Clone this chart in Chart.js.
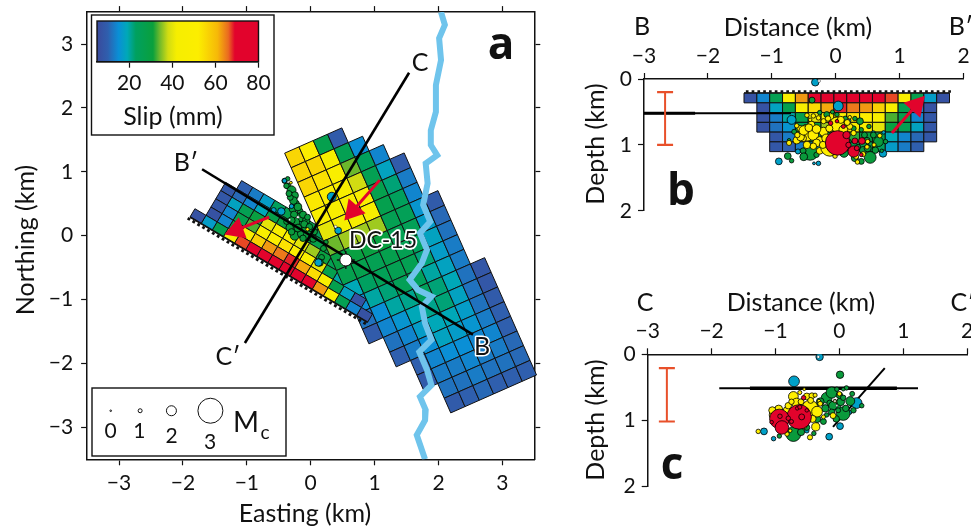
<!DOCTYPE html>
<html><head><meta charset="utf-8">
<style>html,body{margin:0;padding:0;background:#fff;width:971px;height:529px;overflow:hidden}canvas{position:absolute;left:0;top:0}</style>
<script src="https://cdn.jsdelivr.net/npm/chart.js@4/dist/chart.umd.js"></script>
</head><body>
<canvas id="a" width="971" height="529"></canvas>
<canvas id="b" width="971" height="529"></canvas>
<canvas id="c" width="971" height="529"></canvas>
<canvas id="bar" width="971" height="529"></canvas>
<script>
// ---------- data ----------
const mapTicks=[-3,-2,-1,0,1,2,3];
const sectionXTicks=[-3,-2,-1,0,1,2];
const depthTicks=[0,1,2];
const slipTicks=[20,40,60,80];
const legendMags=[0,1,2,3];
const legendEast=[-3.13,-2.67,-2.18,-1.57];
const legendNorth=[-2.74,-2.74,-2.74,-2.74];
// slip stops of the colour bar (mm) and their colours
const slipStops=[5,10,15,19,23,31,34,38,42,52,61,66,69,80];
const slipColors=['#3a4a9c','#2f5fae','#0a8fd6','#00a8b8','#00a060','#0aa03c','#6cb82c','#d2dc12','#f6ee00','#fcee00','#f6b808','#ea6a20','#e2032c','#e2032c'];
// Shallow fault plane: rows from the top edge, cells listed from B to B'
const faultStart=[0,1,1,1,2,2];
const faultSlip=[
 [7,14,26,47,63,74,75,75,75,75,75,67,47,27,17,7],
 [7,18,27,47,55,62,68,65,63,57,47,27,14,7],
 [7,13,20,27,40,46,50,54,52,47,33,27,14,8],
 [7,12,16,26,30,36,40,46,46,40,30,26,18,8],
 [8,13,18,26,28,30,32,30,28,19,14,11,8],
 [8,10,13,18,24,27,27,27,24,17,13,10]];
// Main plane: columns from SW to NE, listed from the NW end
const mainTop=[0,0,0,0,1,2,3,6,11];
const mainSlip=[
 [56,56,56,53,46,40,34,29,27,19,15,12,9],
 [48,56,54,48,46,42,36,30,27,23,20,15,14,12,10],
 [27,42,47,47,46,42,36,30,26,25,22,20,16,14,13,10,9],
 [9,26,34,38,47,44,36,30,27,26,25,21,19,17,15,14,13,12,9],
 [15,24,26,27,27,26,26,26,26,24,24,21,19,18,15,13,12,10],
 [14,18,22,24,25,25,24,22,20,22,22,19,17,15,14,13,11],
 [9,13,14,16,17,18,17,18,19,18,17,16,14,13,12,10],
 [9,11,12,13,13,12,12,12,13,14,13,12,10],
 [8,8,9,10,10,11,11,10]];
const river=[[2.04,3.5],[2.1,3.3],[2.01,3.09],[2.04,2.75],[1.96,2.36],[1.96,1.94],[1.88,1.65],[1.88,1.42],[1.98,1.26],[1.8,1.13],[1.83,.82],[1.76,.48],[1.87,.22],[1.71,.04],[1.82,-.22],[1.74,-.43],[1.55,-.69],[1.68,-.85],[1.89,-.95],[1.74,-1.11],[1.79,-1.37],[1.89,-1.63],[1.7,-1.82],[1.82,-2.1],[1.89,-2.34],[1.71,-2.52],[1.8,-2.73],[1.79,-2.89],[1.66,-3.12],[1.79,-3.5]];
const lineBB=[[-1.7,1.04],[2.54,-1.55]];
const lineCC=[[1.54,2.55],[-1.03,-1.68]];
const well=[[.55,-.38]];
// earthquakes [easting, northing, Mc]
const mapGreen=[[-.36,.78,1.3],[-.41,.86,1.15],[-.36,.89,1],[-.3,.71,1.75],[-.25,.63,1.55],[-.23,.5,1.45],[-.28,.42,1.55],[-.17,.39,1.3],[-.15,.29,1.75],[-.07,.24,1.55],[-.25,.21,1.85],[-.33,.13,1.55],[-.25,0,1.75],[-.15,.03,1.55],[-.09,.1,1.45],[-.04,0,1.85],[.04,-.05,1.45],[.17,-.34,1.3],[.14,-.42,1.55],[-.27,.55,1.6],[-.32,.6,1.3],[-.2,.45,1.6],[-.12,.33,1.5],[-.2,.12,1.6],[-.1,.18,1.5],[-.02,.14,1.4],[-.3,.06,1.4],[-.12,-.04,1.4],[.06,.06,1.3],[-.38,.22,1.2],[.2,-.2,1.3],[.24,-.1,1],[-.26,.33,1.5],[-.34,.66,1.3],[-.38,.78,1.2],[-.3,.24,1.5],[-.05,.29,1.3]];
const mapBlue=[[-.41,.86,1],[.33,.61,1.75],[.43,.08,1.45],[.12,-.42,1.55],[-.46,.38,1.55],[-.58,.4,1.15],[-.3,.46,1]];
const mapYellow=[[-.31,.83,.5],[-.05,.1,.75]];
const mapWhite=[[-.2,.29,.5],[.39,.14,.5],[-.33,.25,.3]];
// earthquakes [distance, depth, Mc]
const bRed=[[.03,.97,2.85],[.28,1.1,2],[.17,.85,1.55],[.3,.94,1.3],[.41,.94,1.45],[-.08,.67,1],[.02,.64,.75],[.2,1,1.2],[.33,1.05,1.1],[.12,.72,.9],[.4,1.15,.8]];
const bYellow=[[-.45,.82,2.4],[-.61,.93,1.55],[-.51,.9,1.45],[-.45,1,1.55],[-.35,.85,1.95],[-.25,.93,1.55],[-.19,.8,1.75],[-.25,1.09,1.45],[-.35,.56,1],[-.38,.69,1.45],[-.09,1.03,2.55],[.02,.69,2.3],[.12,.77,1.75],[.22,.72,1.3],[-.56,.75,1.3],[-.73,.97,1.15],[-.01,1.17,1],[.34,1.26,1],[.43,1.14,1.15],[.49,1.03,1],[.69,.86,1],[.22,.58,.75],[-.19,.64,1.15],[-.27,.59,1],[-.4,.62,.75],[-.48,.72,.75],[-.61,.71,1],[-.55,.88,1.6],[-.5,.78,1.8],[-.42,.74,1.6],[-.3,.76,1.7],[-.3,.97,1.6],[-.15,.9,1.7],[-.2,1,1.5],[-.1,.75,1.5],[.08,.62,1.5],[.18,.66,1.3],[.28,.82,1.2],[-.12,.6,1.2],[-.45,.55,1],[-.6,.85,1.2],[-.35,1.02,1.4],[.32,1.18,1.1],[.5,.95,1],[.6,1,.9]];
const bGreen=[[-.4,1.11,2.4],[-.75,1.17,1.45],[-.69,1.24,1],[-.73,.93,.75],[.38,.64,1.45],[.28,.75,1.15],[.54,1.19,2.05],[.43,1.08,1.55],[.67,.95,1.85],[.59,.85,1.3],[.02,.54,1],[-.51,1.09,1.3],[.49,.93,1.3],[-.14,.54,1.3],[-.25,.51,1],[-.37,.32,1.3],[.35,1.03,1.15],[.72,1.09,.75],[.13,1.12,1.75],[.45,.85,1.3],[.5,1.05,1.5],[.62,1.08,1.4],[.3,1.2,1.5],[.4,1.25,1.3],[.2,.95,1.2],[.15,.6,1.1],[.3,.6,1],[-.65,.8,1.1],[-.5,1.18,1.6],[-.3,1.15,1.2],[.78,.95,1],[.1,1.02,1.5],[.52,.72,1],[-.05,.5,.9],[.4,.77,1]];
const bBlue=[[.04,.41,1.85],[-.69,.62,1.75],[-.89,1.25,1.45],[-.27,1.28,1],[-.34,1.28,.5],[-.32,.05,1.55],[-.59,1.1,1.15],[.59,.82,1],[.74,1.13,1.55],[.75,.81,.75],[.21,.63,.75]];
const bWhite=[[-.26,.03,.5]];
const cRed=[[-.63,.95,2.85],[-.94,.98,2.6],[-.9,1.11,2.2],[-.59,.95,1.3],[-.56,.66,1],[-1.06,1.03,.75],[-.93,.94,1],[-.66,.82,.75],[-.51,.85,.75],[-.8,.97,1],[-.75,1.02,.9],[-.62,.8,.9]];
const cYellow=[[-1.01,.92,2],[-.46,.82,2.4],[-.35,.87,1.95],[-.37,1.1,1.65],[-.72,.64,1.85],[-.51,.64,1.45],[-.43,.63,1.3],[-.82,.85,1.55],[-.67,.74,1.85],[-.82,1.21,1],[-.46,1.26,1.15],[-1.27,1.17,1],[-.1,.93,1.3],[0,.6,1],[-.32,.71,.75],[-.55,.53,.5],[-.07,.71,.75],[-.77,1.16,.75],[-.95,.83,1.6],[-1.05,.85,1.5],[-.8,.78,1.4],[-.6,.72,1.3],[-.75,.72,1.2],[-.45,.7,1.3],[-.3,.75,1.1],[-.42,.98,1.5],[-.55,1.08,1.3],[-.62,.58,.9],[-.38,.62,.9],[-.25,.95,.9]];
const cGreen=[[-.72,1.21,2.3],[-.2,.66,1.95],[-.22,.82,1.55],[.06,.9,2.2],[.17,.71,1.75],[-.12,.58,2],[.01,.31,1.55],[.35,.78,1],[-.04,.53,1],[.11,.51,1],[-.35,.98,1.55],[-.94,1.24,1],[-.2,.92,1],[-.04,.79,1.55],[-.15,.74,1.3],[.06,.53,.75],[-.51,1.11,1.3],[-.3,.72,1.6],[-.1,.78,1.7],[.02,.72,1.6],[.1,.82,1.4],[-.12,.88,1.4],[0,.62,1.4],[.2,.6,1.1],[-.05,.98,1.4],[-.25,1.02,1.3],[.22,.85,1.2],[.06,.66,1.2],[-.6,1.18,1.5],[-.4,1.2,1],[-.02,.85,1.1]];
const cBlue=[[-.71,.41,1.95],[-.31,.04,1.55],[-1.18,1.17,1.45],[-1.03,1.28,1],[-.16,1.25,1.45],[.01,1.09,1.45],[.27,.74,1.95],[.16,.88,1],[-.51,1.16,1]];
const cWhite=[[-.33,.04,.5],[-.07,.71,.3],[-.04,.78,.2]];
const arrowMapNW=[[-.65,.29],[-1.16,.09]];
const arrowMapNE=[[1.08,.87],[.66,.39]];
const arrowB=[[.88,.82],[1.26,.4]];
const errorB=[[-2.67,.2],[-2.67,1]];
const errorC=[[-2.7,.21],[-2.7,1.02]];
const surfaceB=[[-3,.52],[-.7,.52]];
const surfaceBThick=[[-3,.52],[-2.2,.52]];
const lensC=[[-1.88,.516],[1.23,.516]];
const lensCThick=[[-1.4,.516],[.9,.516]];
const obliqueC=[[.71,.21],[-.1,1.1]];

// ---------- helpers ----------
const FONT='Lato';
const RED='#e2032c',YEL='#ffef00',GRN='#0a9a3c',BLU='#00a0c8';
const radius=m=>0.9*Math.pow(2.5,m);
const minus=v=>v<0?'\u2212'+Math.abs(v):String(v);
function hex(c){return [1,3,5].map(i=>parseInt(c.substr(i,2),16));}
function slipColor(v){
  if(v<=slipStops[0])return slipColors[0];
  for(let i=1;i<slipStops.length;i++){
    if(v<=slipStops[i]){const t=(v-slipStops[i-1])/(slipStops[i]-slipStops[i-1]),a=hex(slipColors[i-1]),b=hex(slipColors[i]);
      return 'rgb('+a.map((x,k)=>Math.round(x+(b[k]-x)*t)).join(',')+')';}
  }
  return slipColors[slipColors.length-1];
}
const xy=p=>({x:p[0],y:p[1]});
const quakes=(arr,col,bw=.8)=>({type:'scatter',data:arr.map(xy),backgroundColor:col,borderColor:'#000',borderWidth:bw,pointRadius:arr.map(p=>radius(p[2])),pointHoverRadius:arr.map(p=>radius(p[2]))});
const line=(arr,col,w)=>({type:'scatter',showLine:true,data:arr.map(xy),borderColor:col,backgroundColor:col,borderWidth:w,pointRadius:0});
const arrow=(arr,rot)=>({type:'scatter',showLine:true,data:arr.map(xy),borderColor:RED,backgroundColor:RED,borderWidth:3,pointRadius:[0,13],pointStyle:'triangle',rotation:rot,pointBorderWidth:0});
const errorBar=arr=>({type:'scatter',showLine:true,data:arr.map(xy),borderColor:'#e8502a',borderWidth:2,pointStyle:'line',pointRadius:8,pointBorderColor:'#e8502a',pointBorderWidth:2.2});

// geometry of the two planes (km)
const faultU=[.1737,-.103],faultV=[.0766,.1292],faultO=[-1.889,.293];
const mainU=[.2238,.0989],mainV=[.1015,-.2296],mainO=[-.408,1.292];
function cell(o,u,v,i,j){return [[i,j],[i+1,j],[i+1,j+1],[i,j+1]].map(([a,b])=>[o[0]+a*u[0]+b*v[0],o[1]+a*u[1]+b*v[1]]);}
const faultCells=rows=>{const out=[];rows.forEach(r=>faultSlip[r].forEach((s,k)=>out.push({c:cell(faultO,faultU,faultV,15-(faultStart[r]+k),r),s})));return out;};
const polysA=[...faultCells([5,4,3,2])];
mainSlip.forEach((col,i)=>col.forEach((s,k)=>polysA.push({c:cell(mainO,mainU,mainV,i,mainTop[i]+k),s})));
polysA.push(...faultCells([1,0]));
const bO=[-1.435,.214],bU=[.201,0],bV=[0,.148];
const polysB=[];
faultSlip.forEach((row,r)=>row.forEach((s,k)=>polysB.push({c:cell(bO,bU,bV,faultStart[r]+k,r),s})));

const teethMap=Array.from({length:37},(_,i)=>({x:faultO[0]+i*.44*faultU[0]-.035*.51,y:faultO[1]+i*.44*faultU[1]-.035*.86}));
const traceMap=[[faultO[0],faultO[1]],[faultO[0]+16*faultU[0],faultO[1]+16*faultU[1]]];
const teethB=Array.from({length:36},(_,i)=>({x:bO[0]+.05+i*.0905,y:.19}));
const traceB=[[bO[0],.21],[bO[0]+16*bU[0],.21]];

// ---------- plugins ----------
const cellsPlugin=polys=>({id:'cells',beforeDatasetsDraw(ch){
  const g=ch.ctx,X=ch.scales.x,Y=ch.scales.y;
  g.save();g.strokeStyle='#111';g.lineWidth=1;g.lineJoin='miter';
  polys.forEach(p=>{g.beginPath();p.c.forEach((q,i)=>{const a=X.getPixelForValue(q[0]),b=Y.getPixelForValue(q[1]);i?g.lineTo(a,b):g.moveTo(a,b);});g.closePath();g.fillStyle=slipColor(p.s);g.fill();g.stroke();});
  g.restore();
}});
const boxesPlugin=boxes=>({id:'boxes',beforeDatasetsDraw(ch){
  const g=ch.ctx;g.save();boxes.forEach(b=>{g.fillStyle='#fff';g.fillRect(b[0],b[1],b[2],b[3]);g.strokeStyle='#111';g.lineWidth=1.4;g.strokeRect(b[0],b[1],b[2],b[3]);});g.restore();
}});
const textPlugin=items=>({id:'texts',afterDraw(ch){
  const g=ch.ctx;
  items.forEach(t=>{g.save();g.translate(t.x,t.y);if(t.rot)g.rotate(t.rot);g.font=t.font||('25px '+FONT);g.textAlign='center';g.textBaseline='middle';
    if(t.halo){g.strokeStyle='#fff';g.lineWidth=t.halo;g.lineJoin='round';g.strokeText(t.t,0,0);}
    g.fillStyle='#111';g.fillText(t.t,0,0);g.restore();});
}});
const noPad=s=>{s.paddingLeft=s.paddingRight=s.paddingTop=s.paddingBottom=0;};
const fitW=w=>s=>{s.width=w;noPad(s);};
const fitH=h=>s=>{s.height=h;noPad(s);};
const tickFont={family:FONT,size:21};
const axisBase=(min,max,ticks,extra)=>Object.assign({type:'linear',min,max,afterBuildTicks:s=>{s.ticks=ticks.map(v=>({value:v}));},
  grid:{drawOnChartArea:false,color:'#111',tickLength:6,tickWidth:1.2},border:{display:true,color:'#111',width:1.5}},extra);
const baseOptions=(padding,scales)=>({responsive:false,animation:false,devicePixelRatio:1,layout:{padding,autoPadding:false},
  plugins:{legend:{display:false},tooltip:{enabled:false}},events:[],scales});

// ---------- panel a ----------
const aLayers=[
  line(river,'#6fc4ec',6),
  line(traceMap,'#111',1.6),
  {type:'scatter',data:teethMap,backgroundColor:'#111',borderWidth:0,pointStyle:'rect',pointRadius:2,rotation:30.7},
  quakes(mapGreen,GRN),quakes(mapBlue,BLU),quakes(mapYellow,YEL),quakes(mapWhite,'#fff',.4),
  line(lineBB,'#000',2.6),line(lineCC,'#000',2.6),
  arrow(arrowMapNW,250),arrow(arrowMapNE,221),
  {type:'scatter',data:well.map(xy),pointStyle:'cross',pointRadius:9,borderColor:'#111',borderWidth:1.4},
  {type:'scatter',data:well.map(xy),pointRadius:6,backgroundColor:'#fff',borderColor:'#111',borderWidth:1},
  {type:'scatter',data:legendEast.map((x,i)=>({x,y:legendNorth[i]})),pointRadius:legendMags.map(m=>0.8*Math.pow(2.5,m)),backgroundColor:'#fff',borderColor:'#111',borderWidth:1}
];
new Chart('a',{type:'scatter',data:{datasets:aLayers.reverse()},
 options:baseOptions({left:0,top:6.1,right:971-534.3-6,bottom:529-459.3-42},{
   x:axisBase(-3.5,3.5,mapTicks,{position:'bottom',afterFit:fitH(42),ticks:{font:tickFont,color:'#111',padding:5,maxRotation:0,callback:minus}}),
   y:axisBase(-3.5,3.5,mapTicks,{position:'left',afterFit:fitW(87.1),ticks:{font:tickFont,color:'#111',padding:8,callback:minus}}),
   x2:axisBase(-3.5,3.5,mapTicks,{position:'top',afterFit:fitH(6),ticks:{display:false}}),
   y2:axisBase(-3.5,3.5,mapTicks,{position:'right',afterFit:fitW(6),ticks:{display:false}})
 }),
 plugins:[cellsPlugin(polysA),boxesPlugin([[91.5,15,182.5,120],[92,388,194,68]]),textPlugin([
  {t:'Easting (km)',x:305,y:514},
  {t:'Northing (km)',x:26,y:240,rot:-Math.PI/2},
  {t:'a',x:501,y:46,font:'bold 44px "Open Sans"'},
  {t:'C',x:420,y:63},{t:'C\u2032',x:228,y:357},{t:'B\u2032',x:186,y:163},
  {t:'B',x:482,y:347,halo:3},
  {t:'DC-15',x:383,y:241,font:'23px '+FONT,halo:3.5},
  {t:'0',x:110.7,y:431,font:'21px '+FONT},{t:'1',x:139.3,y:431,font:'21px '+FONT},{t:'2',x:171.7,y:436,font:'21px '+FONT},{t:'3',x:210,y:442,font:'21px '+FONT},
  {t:'M',x:246,y:423,font:'28px '+FONT},{t:'c',x:265,y:433,font:'19px '+FONT}
 ])]});

// ---------- section panels ----------
function section(id,top,left,layers,polys,texts){
  const right=left+319.5,bottom=top+127.8;
  new Chart(id,{type:'scatter',data:{datasets:layers.reverse()},
   options:baseOptions({left:left-40,top:top-44,right:971-right,bottom:529-bottom-4},{
    x:axisBase(-3,2,sectionXTicks,{position:'top',afterFit:fitH(44),ticks:{font:tickFont,color:'#111',padding:4,maxRotation:0,callback:minus}}),
    y:axisBase(0,2,depthTicks,{position:'left',reverse:true,afterFit:fitW(40),ticks:{font:tickFont,color:'#111',padding:6}})
   }),
   plugins:[cellsPlugin(polys),textPlugin(texts)]});
}
section('b',79,644,[
  line(surfaceB,'#000',2),line(surfaceBThick,'#000',3),errorBar(errorB),
  line(traceB,'#111',1.2),
  {type:'scatter',data:teethB,backgroundColor:'#111',borderWidth:0,pointStyle:'rect',pointRadius:1.9},
  quakes(bBlue,BLU),quakes(bGreen,GRN),quakes(bYellow,YEL),quakes(bRed,RED),quakes(bWhite,'#fff',.4),
  arrow(arrowB,42)
],polysB,[
  {t:'B',x:642,y:27},{t:'Distance (km)',x:798,y:28},{t:'B\u2032',x:961,y:27},
  {t:'Depth (km)',x:596,y:144,rot:-Math.PI/2},
  {t:'b',x:681,y:192,font:'bold 44px "Open Sans"'}
]);
section('c',354.3,647.7,[
  line(lensC,'#000',2),line(lensCThick,'#000',3.4),line(obliqueC,'#000',2),errorBar(errorC),
  quakes(cBlue,BLU),quakes(cGreen,GRN),quakes(cYellow,YEL),quakes(cRed,RED),quakes(cWhite,'#fff',.4)
],[],[
  {t:'C',x:645,y:303},{t:'Distance (km)',x:801,y:303},{t:'C\u2032',x:963,y:303},
  {t:'Depth (km)',x:596,y:420,rot:-Math.PI/2},
  {t:'c',x:672,y:466,font:'bold 44px "Open Sans"'}
]);

// ---------- colour bar ----------
new Chart('bar',{type:'scatter',data:{datasets:[{data:[]}]},
 options:baseOptions({left:97,top:21,right:971-258.5,bottom:529-61.7-34},{
  x:axisBase(5,80,slipTicks,{position:'bottom',afterFit:fitH(34),ticks:{font:tickFont,color:'#111',padding:3,maxRotation:0}}),
  y:{type:'linear',display:false,min:0,max:1}
 }),
 plugins:[{id:'gradient',beforeDatasetsDraw(ch){
   const g=ch.ctx,a=ch.chartArea,X=ch.scales.x,gr=g.createLinearGradient(a.left,0,a.right,0);
   slipStops.forEach((v,i)=>gr.addColorStop((X.getPixelForValue(v)-a.left)/(a.right-a.left),slipColors[i]));
   g.save();g.fillStyle=gr;g.fillRect(a.left,a.top,a.right-a.left,a.bottom-a.top);g.strokeStyle='#111';g.lineWidth=1.4;g.strokeRect(a.left,a.top,a.right-a.left,a.bottom-a.top);g.restore();
 }},textPlugin([{t:'Slip (mm)',x:173,y:117}])]});
</script>
</body></html>
